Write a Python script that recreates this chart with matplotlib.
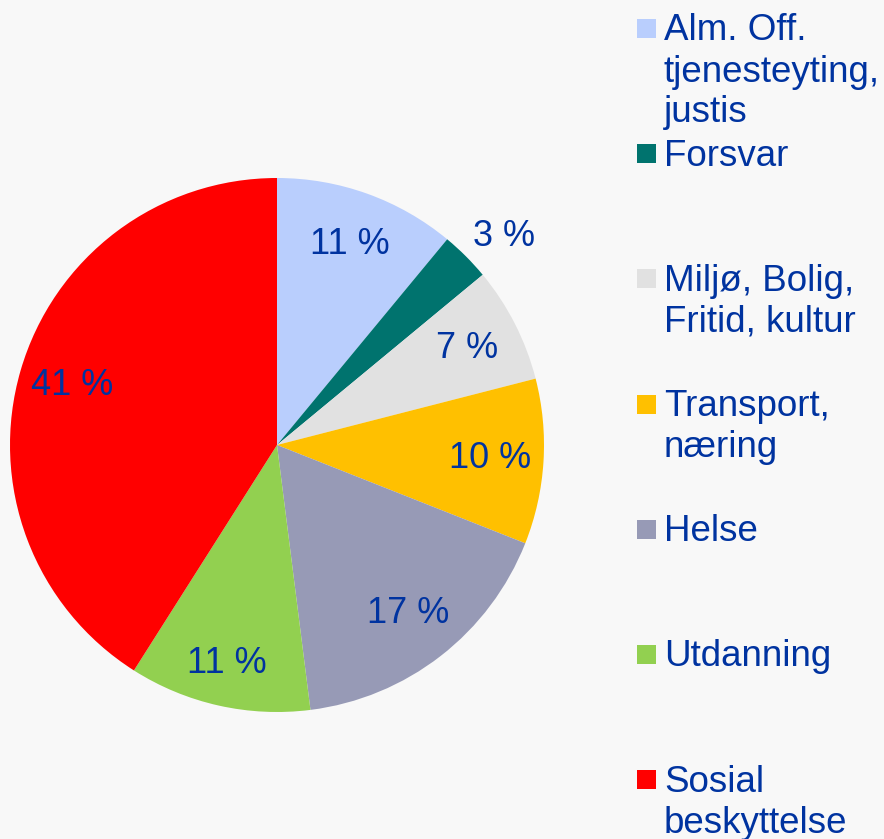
import matplotlib
matplotlib.use("Agg")
import numpy as np
import matplotlib.pyplot as plt
from matplotlib.patches import Rectangle

plt.rcParams['font.family'] = ['Liberation Sans', 'DejaVu Sans']

# data
labels = ["Alm. Off.\ntjenesteyting,\njustis", "Forsvar", "Miljø, Bolig,\nFritid, kultur",
          "Transport,\nnæring", "Helse", "Utdanning", "Sosial\nbeskyttelse"]
values = [11, 3, 7, 10, 17, 11, 41]
colors = ["#B9CEFD", "#00736E", "#E1E1E1", "#FFC000", "#979AB6", "#92D050", "#FF0000"]

txt_col = "#0033A0"
bg = "#F8F8F8"

fig = plt.figure(figsize=(8.84, 8.39), dpi=100, facecolor=bg)
W, H = 884, 839

# pie centre (277, 445) px, radius 267
cx, cy, r = 277, 445, 267
ax = fig.add_axes([(cx - r) / W, (H - cy - r) / H, 2 * r / W, 2 * r / H])
ax.set_facecolor(bg)
wedges, texts, autotexts = ax.pie(values, colors=colors, startangle=90, counterclock=False,
                                  autopct=lambda p: "%d %%" % round(p), pctdistance=0.8,
                                  radius=1, wedgeprops=dict(linewidth=0))
for t in autotexts:
    t.set_fontsize(26)
    t.set_color(txt_col)
# small slice label sits outside the pie
autotexts[1].set_position((0.85, 0.78))
# green label a bit further out
ang = np.deg2rad(-103)
autotexts[5].set_position((0.84 * np.cos(ang), 0.84 * np.sin(ang)))
ax.set_xlim(-1, 1)
ax.set_ylim(-1, 1)
ax.set_aspect("equal")
ax.axis("off")

# legend drawn by hand
y0 = 28.5
step = 125.2
lh = 41
for i, (lab, col) in enumerate(zip(labels, colors)):
    yc = y0 + i * step
    fig.patches.append(Rectangle((637 / W, (H - yc - 9.5) / H), 19 / W, 19 / H,
                                 transform=fig.transFigure, facecolor=col, edgecolor="none"))
    for k, line in enumerate(lab.split("\n")):
        fig.text(664 / W, (H - yc - 12 - k * lh) / H, line, fontsize=26.5, color=txt_col,
                 ha="left", va="baseline")

fig.savefig("out.png", dpi=100, facecolor=bg)
